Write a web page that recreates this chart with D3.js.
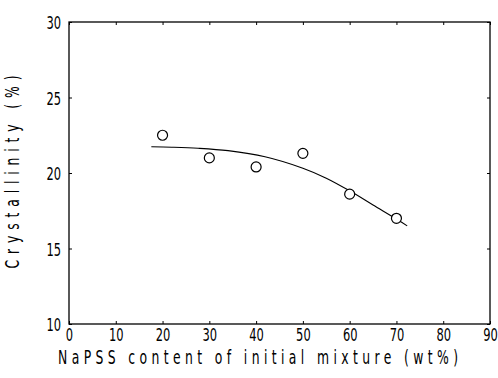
<!DOCTYPE html>
<html><head><meta charset="utf-8">
<script src="https://cdn.jsdelivr.net/npm/d3@7"></script>
<style>body{margin:0;background:#fff}svg{display:block}</style>
</head><body>
<script>
const pointX = [20, 30, 40, 50, 60, 70];
const pointY = [22.5, 21.0, 20.4, 21.3, 18.6, 17.0];
const curveX = [17.6, 22, 27.6, 34.0, 41.9, 50, 55, 60, 65, 70, 72.3];
const curveY = [21.74, 21.71, 21.64, 21.48, 21.08, 20.32, 19.66, 18.82, 17.88, 16.95, 16.50];
const xTicks = [0, 10, 20, 30, 40, 50, 60, 70, 80, 90];
const yTicks = [10, 15, 20, 25, 30];
const xTitle = "NaPSS content of initial mixture (wt%)";
const yTitle = "Crystallinity (%)";

const W = 498, H = 378;
const m = {left: 69, right: 8, top: 22, bottom: 54};
const SX = 0.62;
const svg = d3.select("body").append("svg").attr("width", W).attr("height", H);
const x = d3.scaleLinear().domain([0, 90]).range([m.left, W - m.right]);
const y = d3.scaleLinear().domain([10, 30]).range([H - m.bottom, m.top]);
const font = "'DejaVu Sans',sans-serif";

// frame
svg.append("rect").attr("x", x(0)).attr("y", y(30)).attr("width", x(90) - x(0)).attr("height", y(10) - y(30))
  .attr("fill", "none").attr("stroke", "#000").attr("stroke-width", 1.3);

// axes
const gx = svg.append("g").attr("transform", `translate(0,${y(10)})`)
  .call(d3.axisBottom(x).tickValues(xTicks).tickSize(-3).tickFormat(d3.format("d")));
const gxt = svg.append("g").attr("transform", `translate(0,${y(30)})`)
  .call(d3.axisTop(x).tickValues(xTicks).tickSize(-3).tickFormat(""));
const gy = svg.append("g").attr("transform", `translate(${x(0)},0)`)
  .call(d3.axisLeft(y).tickValues(yTicks).tickSize(-3).tickFormat(d3.format("d")));
const gyr = svg.append("g").attr("transform", `translate(${x(90)},0)`)
  .call(d3.axisRight(y).tickValues(yTicks).tickSize(-3).tickFormat(""));
[gx, gxt, gy, gyr].forEach(g => {
  g.select(".domain").remove();
  g.selectAll("line").attr("stroke", "#000").attr("stroke-width", 1);
  g.selectAll("text").attr("font-family", font).attr("font-size", 18.5).attr("fill", "#000");
});
gx.selectAll("text").attr("x", 0).attr("y", 17).attr("dy", 0).attr("transform", `scale(${SX},1)`);
gy.selectAll("text").attr("x", -8 / SX).attr("dy", "0.36em").attr("transform", `scale(${SX},1)`);

// curve
const line = d3.line().x(d => x(d[0])).y(d => y(d[1])).curve(d3.curveCatmullRom);
svg.append("path").datum(curveX.map((v, i) => [v, curveY[i]])).attr("d", line)
  .attr("fill", "none").attr("stroke", "#000").attr("stroke-width", 1.1);

// points
svg.selectAll("circle.pt").data(pointX.map((v, i) => [v, pointY[i]])).enter().append("circle")
  .attr("cx", d => x(d[0])).attr("cy", d => y(d[1])).attr("r", 5)
  .attr("fill", "#fff").attr("stroke", "#000").attr("stroke-width", 1.2);

// titles
svg.append("text").attr("transform", `translate(258,364) scale(${SX},1)`).attr("text-anchor", "middle")
  .attr("font-family", font).attr("font-size", 20).attr("fill", "#000")
  .attr("textLength", 400 / SX).attr("lengthAdjust", "spacing").text(xTitle);
svg.append("text").attr("transform", `translate(19,172) rotate(-90) scale(${SX},1)`).attr("text-anchor", "middle")
  .attr("font-family", font).attr("font-size", 20).attr("fill", "#000")
  .attr("textLength", 193 / SX).attr("lengthAdjust", "spacing").text(yTitle);
</script>
</body></html>
